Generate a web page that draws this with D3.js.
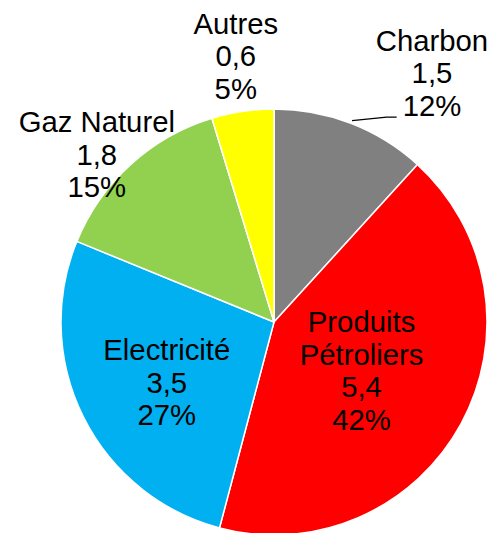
<!DOCTYPE html>
<html>
<head>
<meta charset="utf-8">
<script src="https://cdn.jsdelivr.net/npm/d3@7"></script>
<style>
  html, body { margin: 0; padding: 0; background: #fff; }
  svg { display: block; }
</style>
</head>
<body>
<div id="chart"></div>
<script>
// data
const categories = ['Charbon', 'Produits Pétroliers', 'Electricité', 'Gaz Naturel', 'Autres'];
const values = [1.5, 5.4, 3.45, 1.8, 0.6];
const valueLabels = ['1,5', '5,4', '3,5', '1,8', '0,6'];
const pctLabels = ['12%', '42%', '27%', '15%', '5%'];
const colors = ['#808080', '#ff0000', '#00b0f0', '#92d050', '#ffff00'];

// label placement: radius factor and angle shift (deg) from the slice middle
const labelLayout = {
  'Charbon': { k: 1.385, shift: 11.2, leader: true },
  'Produits Pétroliers': { k: 0.47, shift: 0.4, lines: ['Produits', 'Pétroliers'] },
  'Electricité': { k: 0.577, shift: -2.8 },
  'Gaz Naturel': { k: 1.146, shift: -4.2 },
  'Autres': { k: 1.263, shift: 0.3 }
};

const width = 488;
const height = 533;
const cx = 274, cy = 322;
const radius = 213;
const fontSize = 29.3;
const lineH = 32.7;
const capH = fontSize * 0.716;

const svg = d3.select('#chart')
  .append('svg')
  .attr('width', width)
  .attr('height', height);

const graph = svg.append('g')
  .attr('transform', `translate(${cx}, ${cy})`);

const slices = categories.map((c, i) => ({
  name: c, value: values[i], valueLabel: valueLabels[i], pct: pctLabels[i], color: colors[i]
}));

const pie = d3.pie()
  .sort(null)
  .value(d => d.value);

const arc = d3.arc()
  .innerRadius(0)
  .outerRadius(radius);

const arcs = pie(slices);

graph.selectAll('path')
  .data(arcs)
  .enter()
  .append('path')
  .attr('d', arc)
  .attr('fill', d => d.data.color)
  .attr('stroke', '#fff')
  .attr('stroke-width', 1.5)
  .attr('stroke-linejoin', 'round');

const polar = (angle, r) => [Math.sin(angle) * r, -Math.cos(angle) * r];

const labels = graph.selectAll('g.label')
  .data(arcs)
  .enter()
  .append('g')
  .attr('class', 'label');

labels.each(function (d) {
  const lay = labelLayout[d.data.name];
  const mid = (d.startAngle + d.endAngle) / 2;
  const [lx, ly] = polar(mid + lay.shift * Math.PI / 180, radius * lay.k);
  const lines = (lay.lines || [d.data.name]).concat([d.data.valueLabel, d.data.pct]);
  const firstBase = ly - (lines.length - 1) * lineH / 2 + capH / 2;

  const text = d3.select(this).append('text')
    .attr('text-anchor', 'middle')
    .style('font-family', '"Liberation Sans", Arial, Helvetica, sans-serif')
    .style('font-size', fontSize + 'px')
    .attr('fill', '#000');

  const spans = text.selectAll('tspan')
    .data(lines)
    .enter()
    .append('tspan')
    .attr('x', lx)
    .attr('y', (t, i) => firstBase + i * lineH)
    .text(t => t);

  if (lay.leader) {
    const last = spans.nodes()[lines.length - 1];
    const box = last.getBBox();
    const endY = firstBase + (lines.length - 1) * lineH + 1;
    const endX = box.x - 6;
    const start = polar(mid, radius + 3);
    d3.select(this).insert('path', 'text')
      .attr('d', d3.line()([start, [endX - 10, endY], [endX, endY]]))
      .attr('fill', 'none')
      .attr('stroke', '#000')
      .attr('stroke-width', 1.3);
  }
});
</script>
</body>
</html>
